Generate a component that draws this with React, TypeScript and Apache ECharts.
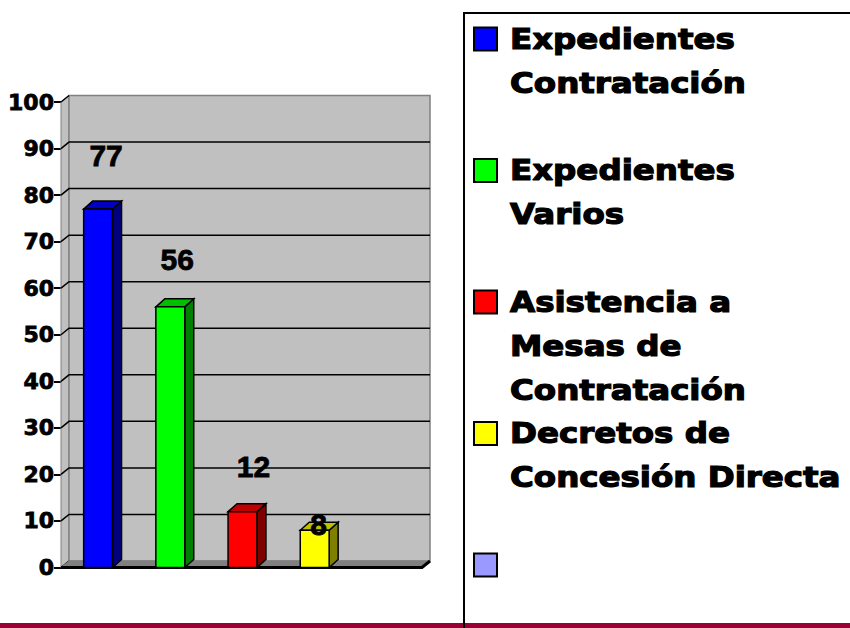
import React, { useEffect, useRef } from "react";
import * as echarts from "echarts";

// ---- data ----
const categories = [
  "Expedientes Contratación",
  "Expedientes Varios",
  "Asistencia a Mesas de Contratación",
  "Decretos de Concesión Directa",
  "",
];
const values = [77, 56, 12, 8];
const yTicks = [0, 10, 20, 30, 40, 50, 60, 70, 80, 90, 100];
const legendLines = [
  ["Expedientes", "Contratación"],
  ["Expedientes", "Varios"],
  ["Asistencia a", "Mesas de", "Contratación"],
  ["Decretos de", "Concesión Directa"],
  [],
];

// ---- styles ----
const frontColors = ["#0000ff", "#00ff00", "#ff0000", "#ffff00", "#9999ff"];
const sideColors = ["#000080", "#008000", "#800000", "#808000"];
const topColors = ["#0000c0", "#00c000", "#c00000", "#c0c000"];
const labelLift = [54, 47, 45, 6];
const labelShift = [8, 7, 11, 4];

const WDX = 8; // wall depth
const WDY = -6.5;
const BDX = 9; // bar depth
const BDY = -8;

export default function App() {
  const ref = useRef<HTMLDivElement>(null);

  useEffect(() => {
    if (!ref.current) return;
    const chart = echarts.init(ref.current, null, { renderer: "svg" });

    const legendGraphics: any[] = [];
    legendLines.forEach((lines, i) => {
      const cy = 39 + i * 131.5;
      legendGraphics.push({
        type: "rect",
        shape: { x: 474, y: cy - 11.5, width: 23, height: 23 },
        style: { fill: frontColors[i], stroke: "#000", lineWidth: 2 },
      });
      if (lines.length) {
        legendGraphics.push({
          type: "text",
          x: 510,
          y: cy - 22,
          scaleX: 1.16,
          style: {
            text: lines.join("\n"),
            font: 'bold 28px "DejaVu Sans"',
            fill: "#000",
            stroke: "#000",
            lineWidth: 1.2,
            lineHeight: 44,
            verticalAlign: "top",
            align: "left",
          },
        });
      }
    });

    const option: any = {
      animation: false,
      backgroundColor: "#ffffff",
      grid: { left: 61, right: 428, top: 102, bottom: 60.5, containLabel: false },
      xAxis: {
        type: "category",
        data: categories,
        axisLine: { show: false },
        axisTick: { show: false },
        axisLabel: { show: false },
        splitLine: { show: false },
      },
      yAxis: {
        type: "value",
        min: 0,
        max: 100,
        interval: 10,
        axisLine: { show: true, lineStyle: { color: "#808080", width: 1 } },
        axisTick: { show: true, length: 7, lineStyle: { color: "#000", width: 2 } },
        axisLabel: {
          margin: 7,
          color: "#000",
          fontFamily: "DejaVu Sans",
          fontWeight: "bold",
          fontSize: 22,
          textBorderColor: "#000",
          textBorderWidth: 0.8,
        },
        splitLine: { show: false },
      },
      series: [
        {
          type: "custom",
          name: "walls",
          z: 1,
          clip: false,
          silent: true,
          data: [[0, 0]],
          renderItem: (params: any, api: any) => {
            const cs = params.coordSys;
            const x0 = cs.x;
            const x1 = cs.x + cs.width;
            const yB = api.coord([0, 0])[1];
            const yT = api.coord([0, 100])[1];
            const children: any[] = [];
            children.push({
              type: "polygon",
              shape: { points: [[x0, yT], [x0 + WDX, yT + WDY], [x0 + WDX, yB + WDY], [x0, yB]] },
              style: { fill: "#c0c0c0", stroke: "#808080", lineWidth: 1 },
            });
            children.push({
              type: "rect",
              shape: { x: x0 + WDX, y: yT + WDY, width: x1 - x0, height: yB - yT },
              style: { fill: "#c0c0c0", stroke: "#808080", lineWidth: 1.5 },
            });
            yTicks.forEach((v) => {
              const y = api.coord([0, v])[1];
              const pts =
                v > 0 && v < 100
                  ? [[x0, y], [x0 + WDX, y + WDY], [x1 + WDX, y + WDY]]
                  : [[x0, y], [x0 + WDX, y + WDY]];
              children.push({
                type: "polyline",
                shape: { points: pts },
                style: { stroke: "#000", lineWidth: 1.5, fill: null },
              });
            });
            children.push({
              type: "polygon",
              shape: { points: [[x0, yB], [x0 + WDX, yB + WDY], [x1 + WDX, yB + WDY], [x1, yB]] },
              style: { fill: "#808080", stroke: "#808080", lineWidth: 1 },
            });
            children.push({
              type: "polyline",
              shape: { points: [[x0, yB], [x1, yB], [x1 + WDX, yB + WDY]] },
              style: { stroke: "#000", lineWidth: 3, fill: null },
            });
            return { type: "group", children };
          },
        },
        {
          type: "custom",
          name: "bars",
          z: 2,
          clip: false,
          data: values.map((v, i) => [i, v]),
          renderItem: (params: any, api: any) => {
            const i = api.value(0);
            const v = api.value(1);
            const top = api.coord([i, v]);
            const cx = top[0] + 1;
            const yT = top[1];
            const yB = api.coord([i, 0])[1];
            const bw = api.size([1, 0])[0] * 0.4;
            const l = cx - bw / 2;
            const r = cx + bw / 2;
            const stroke = { stroke: "#000", lineWidth: 1.5 };
            return {
              type: "group",
              children: [
                {
                  type: "polygon",
                  shape: { points: [[r, yT], [r + BDX, yT + BDY], [r + BDX, yB + BDY], [r, yB]] },
                  style: { fill: sideColors[i], ...stroke },
                },
                {
                  type: "polygon",
                  shape: { points: [[l, yT], [l + BDX, yT + BDY], [r + BDX, yT + BDY], [r, yT]] },
                  style: { fill: topColors[i], ...stroke },
                },
                {
                  type: "rect",
                  shape: { x: l, y: yT, width: bw, height: yB - yT },
                  style: { fill: frontColors[i], ...stroke },
                },
                {
                  type: "text",
                  x: cx + labelShift[i],
                  y: yT - labelLift[i],
                  style: {
                    text: String(v),
                    font: 'bold 30px "Liberation Sans"',
                    fill: "#000",
                    stroke: "#000",
                    lineWidth: 0.8,
                    align: "center",
                    verticalAlign: "middle",
                  },
                },
              ],
            };
          },
        },
      ],
      graphic: [
        {
          type: "rect",
          shape: { x: 0, y: 623, width: 850, height: 5 },
          style: { fill: "#990033" },
          z: 10,
        },
        {
          type: "rect",
          shape: { x: 464, y: 13, width: 420, height: 640 },
          style: { fill: "none", stroke: "#000", lineWidth: 2 },
          z: 11,
        },
        ...legendGraphics.map((g) => ({ ...g, z: 12 })),
      ],
    };

    chart.setOption(option);
    return () => chart.dispose();
  }, []);

  return (
    <div
      ref={ref}
      style={{ position: "fixed", left: 0, top: 0, width: 850, height: 628 }}
    />
  );
}
